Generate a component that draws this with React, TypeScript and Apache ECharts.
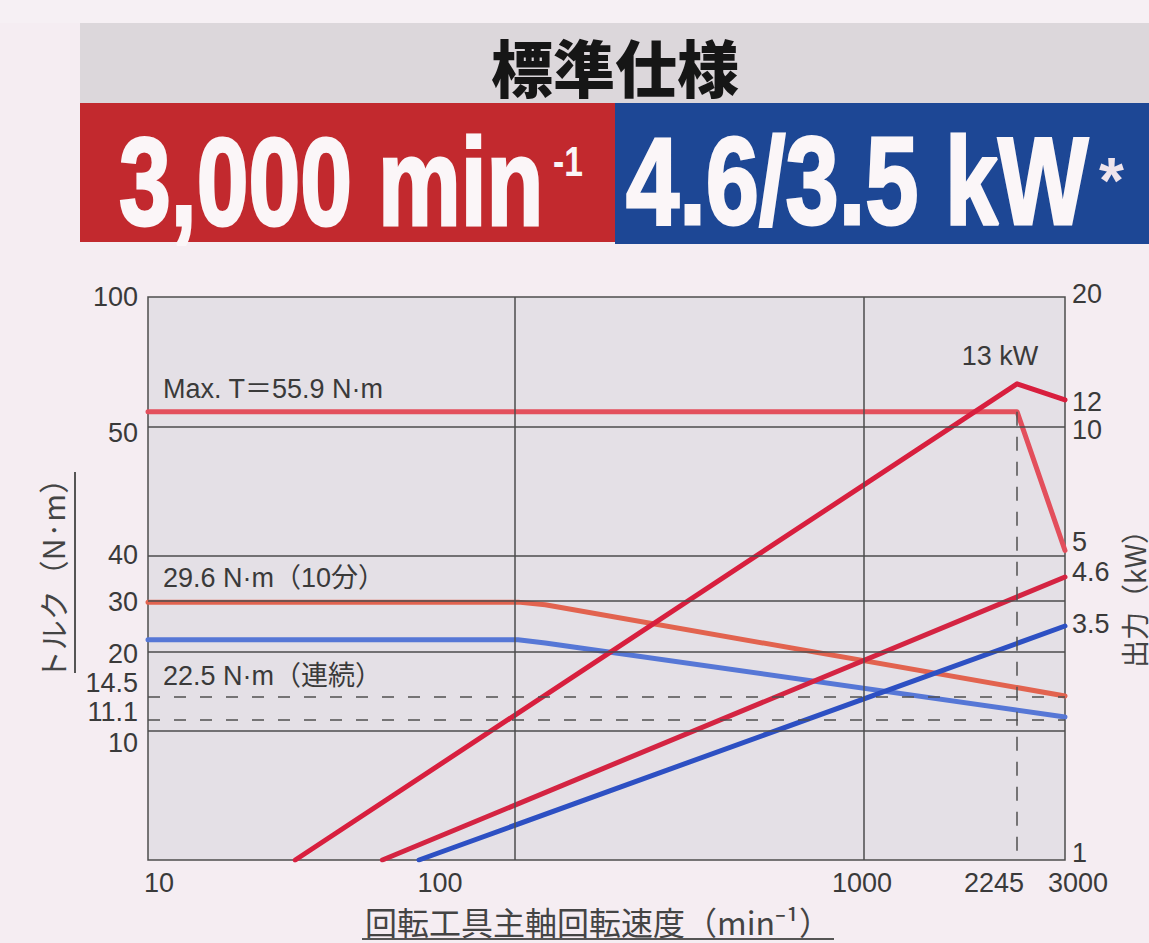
import React, { useEffect, useRef } from "react";
import * as echarts from "echarts";

// Axis ticks
const speedTicks = [10, 100, 1000, 2245, 3000]; // min⁻¹
const torqueTicks = [10, 11.1, 14.5, 20, 30, 40, 50, 100]; // N·m
const powerTicks = [1, 3.5, 4.6, 5, 10, 12, 20]; // kW

// Torque curves: [speed, torque]
const maxTorque = [
  [10, 55.9],
  [2245, 55.9],
  [3000, 40.5],
];
const tenMinTorque = [
  [10, 29.6],
  [100, 29.6],
  [120, 29.1],
  [3000, 14.5],
];
const contTorque = [
  [10, 22.5],
  [100, 22.5],
  [120, 21.9],
  [3000, 11.1],
];

// Power curves: [speed, power]
const maxPower = [
  [25, 1],
  [2245, 13],
  [3000, 12],
];
const tenMinPower = [
  [43, 1],
  [3000, 4.6],
];
const contPower = [
  [54, 1],
  [3000, 3.5],
];

// Axis layout: where each tick sits along its axis (0 = start, 1 = end)
const speedLevels = [0, 0.4035, 0.7786, 0.9477, 1];
const torqueLevels = [0.2309, 0.254, 0.2913, 0.3677, 0.4618, 0.5382, 0.7691, 1];
const powerLevels = [0, 0.4156, 0.5027, 0.5382, 0.7691, 0.8171, 1];

// Tick label nudges (px) so crowded labels stay readable
const speedLabelShift = [11, -78, 0, -23, 13];
const torqueLabelShift = [13, -5, -13, 1, 2, -2, 6, 0];
const powerLabelShift = [-7, -2, -5, -15, 3, 2, -3];

const LATIN = "'Liberation Sans', Arial, Helvetica, sans-serif";
const CJK = "'Noto Sans CJK JP', 'Noto Sans', sans-serif";
const TEXT = "#3a3a3a";
const GRID_LINE = "#4d4d4d";

// Piecewise scale between labelled ticks (log or linear inside each segment)
function place(v: number, ticks: number[], levels: number[], log: boolean) {
  const f = log ? Math.log10 : (x: number) => x;
  let i = 0;
  while (i < ticks.length - 2 && v > ticks[i + 1]) i++;
  const t = (f(v) - f(ticks[i])) / (f(ticks[i + 1]) - f(ticks[i]));
  return levels[i] + t * (levels[i + 1] - levels[i]);
}
const sx = (v: number) => place(v, speedTicks, speedLevels, true);
const ty = (v: number) => place(v, torqueTicks, torqueLevels, false);
const py = (v: number) => place(v, powerTicks, powerLevels, true);

const torqueLine = (data: number[][]) => data.map(([s, t]) => [sx(s), ty(t)]);
const powerLine = (data: number[][]) => data.map(([s, p]) => [sx(s), py(p)]);

const textLabel = (
  text: string,
  dx: number,
  dy: number,
  align = "left",
  fontSize = 27
) => ({
  show: true,
  position: "inside",
  align,
  verticalAlign: "middle",
  offset: [dx, dy],
  formatter: text,
  fontFamily: `${LATIN.split(",")[0]}, ${CJK}`,
  fontSize,
  color: TEXT,
});

// Tick labels placed at the tick positions of each axis
const tickLabels = [
  ...speedTicks.map((t, i) => ({
    coord: [speedLevels[i], 0],
    label: textLabel(String(t), speedLabelShift[i], 23, "center"),
  })),
  ...torqueTicks.map((t, i) => ({
    coord: [0, torqueLevels[i]],
    label: textLabel(String(t), -10, torqueLabelShift[i], "right"),
  })),
  ...powerTicks.map((t, i) => ({
    coord: [1, powerLevels[i]],
    label: textLabel(String(t), 7, powerLabelShift[i], "left"),
  })),
];

const baseLine = (color: string, z: number) => ({
  type: "line",
  showSymbol: false,
  symbol: "none",
  smooth: false,
  z,
  lineStyle: { color, width: 5, cap: "round", join: "round" },
  emphasis: { disabled: true },
});

const peakPower = maxPower[1];

const headline = (text: string, x: number, scaleX: number) => ({
  type: "text",
  x,
  y: 181,
  scaleX,
  style: {
    text,
    font: `bold 125px ${LATIN}`,
    fill: "#fbf6f8",
    stroke: "#fbf6f8",
    lineWidth: 3,
    textAlign: "left",
    textVerticalAlign: "middle",
  },
});

const hiddenAxis = {
  type: "value",
  min: 0,
  max: 1,
  axisLine: { show: false },
  axisTick: { show: false },
  splitLine: { show: false },
  axisLabel: { show: false },
};

const option = {
  animation: false,
  backgroundColor: "#f5edf2",
  grid: {
    left: 148,
    right: 84,
    top: 297,
    bottom: 83,
    show: true,
    backgroundColor: "#e4e0e6",
    borderColor: GRID_LINE,
    borderWidth: 1.5,
  },
  xAxis: { ...hiddenAxis },
  yAxis: [
    { ...hiddenAxis, position: "left" },
    { ...hiddenAxis, position: "right" },
  ],
  series: [
    {
      // chart frame: reference lines and tick labels
      type: "line",
      data: [[0, 0]],
      showSymbol: false,
      symbolSize: 0,
      lineStyle: { opacity: 0 },
      silent: true,
      z: 1,
      markLine: {
        silent: true,
        symbol: ["none", "none"],
        label: { show: false },
        lineStyle: { color: GRID_LINE, width: 1.5, type: "solid" },
        data: [
          ...[50, 40, 30, 20, 10].map((v) => ({ yAxis: ty(v) })),
          ...[14.5, 11.1].map((v) => ({
            yAxis: ty(v),
            lineStyle: { type: [12, 14], color: "#505050", width: 1.5 },
          })),
          ...[100, 1000].map((v) => ({ xAxis: sx(v) })),
          [
            {
              coord: [sx(2245), ty(maxTorque[1][1])],
              lineStyle: { type: [14, 11], color: "#505050", width: 1.5 },
            },
            { coord: [sx(2245), 0] },
          ],
        ],
      },
      markPoint: {
        silent: true,
        symbol: "circle",
        symbolSize: 0,
        data: tickLabels,
      },
    },
    {
      ...baseLine("#e34f5c", 3),
      yAxisIndex: 0,
      data: torqueLine(maxTorque),
      markPoint: {
        symbol: "circle",
        symbolSize: 0,
        data: [
          {
            coord: [sx(maxTorque[0][0]), ty(maxTorque[0][1])],
            label: textLabel(`Max. T＝${maxTorque[0][1]} N·m`, 15, -23),
          },
        ],
      },
    },
    {
      ...baseLine("#e2634f", 3),
      yAxisIndex: 0,
      data: torqueLine(tenMinTorque),
      markPoint: {
        symbol: "circle",
        symbolSize: 0,
        data: [
          {
            coord: [sx(tenMinTorque[0][0]), ty(tenMinTorque[0][1])],
            label: textLabel(`${tenMinTorque[0][1]} N·m（10分）`, 15, -24),
          },
        ],
      },
    },
    {
      ...baseLine("#5677d6", 3),
      yAxisIndex: 0,
      data: torqueLine(contTorque),
      markPoint: {
        symbol: "circle",
        symbolSize: 0,
        data: [
          {
            coord: [sx(contTorque[0][0]), ty(contTorque[0][1])],
            label: textLabel(`${contTorque[0][1]} N·m（連続）`, 15, 36),
          },
        ],
      },
    },
    {
      ...baseLine("#d81f3e", 4),
      yAxisIndex: 1,
      data: powerLine(maxPower),
      markPoint: {
        symbol: "circle",
        symbolSize: 0,
        data: [
          {
            coord: [sx(peakPower[0]), py(peakPower[1])],
            label: textLabel(`${peakPower[1]} kW`, -17, -28, "center"),
          },
        ],
      },
    },
    { ...baseLine("#d42442", 4), yAxisIndex: 1, data: powerLine(tenMinPower) },
    { ...baseLine("#2d50c3", 4), yAxisIndex: 1, data: powerLine(contPower) },
  ],
  graphic: [
    { type: "rect", shape: { x: 0, y: 0, width: 1149, height: 23 }, style: { fill: "#f6f0f4" } },
    { type: "rect", shape: { x: 80, y: 23, width: 1069, height: 81 }, style: { fill: "#dcd7db" } },
    { type: "rect", shape: { x: 80, y: 103, width: 536, height: 139 }, style: { fill: "#c2292e" } },
    { type: "rect", shape: { x: 615, y: 103, width: 534, height: 141 }, style: { fill: "#1d4795" } },
    {
      type: "text",
      x: 615,
      y: 66,
      style: {
        text: "標準仕様",
        font: `900 62px ${CJK}`,
        fill: "#161616",
        textAlign: "center",
        textVerticalAlign: "middle",
      },
    },
    headline("3,000 min", 119, 0.745),
    {
      type: "text",
      x: 553,
      y: 162,
      scaleX: 0.8,
      style: {
        text: "-1",
        font: `bold 42px ${LATIN}`,
        fill: "#fbf6f8",
        textAlign: "left",
        textVerticalAlign: "middle",
      },
    },
    headline("4.6/3.5 kW", 626, 0.765),
    {
      type: "text",
      x: 1099,
      y: 181,
      style: {
        text: "*",
        font: `bold 64px ${LATIN}`,
        fill: "#efe4ec",
        textAlign: "left",
        textVerticalAlign: "middle",
      },
    },
    {
      type: "text",
      x: 52,
      y: 572,
      rotation: Math.PI / 2,
      style: {
        text: "トルク（N·m）",
        font: `30px ${CJK}`,
        fill: "#444",
        textAlign: "center",
        textVerticalAlign: "middle",
      },
    },
    {
      type: "line",
      shape: { x1: 75, y1: 472, x2: 75, y2: 673 },
      style: { stroke: "#555", lineWidth: 2 },
    },
    {
      type: "text",
      x: 1134,
      y: 592,
      rotation: Math.PI / 2,
      style: {
        text: "出力（kW）",
        font: `28px ${CJK}`,
        fill: "#444",
        textAlign: "center",
        textVerticalAlign: "middle",
      },
    },
    {
      type: "text",
      x: 598,
      y: 921,
      style: {
        text: "回転工具主軸回転速度（min⁻¹）",
        font: `32px ${CJK}`,
        fill: "#444",
        textAlign: "center",
        textVerticalAlign: "middle",
      },
    },
    {
      type: "line",
      shape: { x1: 362, y1: 939, x2: 834, y2: 939 },
      style: { stroke: "#555", lineWidth: 2 },
    },
  ],
};

export default function App() {
  const ref = useRef<HTMLDivElement>(null);
  useEffect(() => {
    document.body.style.margin = "0";
    const chart = echarts.init(ref.current!, null, { renderer: "svg" });
    chart.setOption(option as any);
    return () => chart.dispose();
  }, []);
  return <div ref={ref} style={{ width: 1149, height: 943 }} />;
}
